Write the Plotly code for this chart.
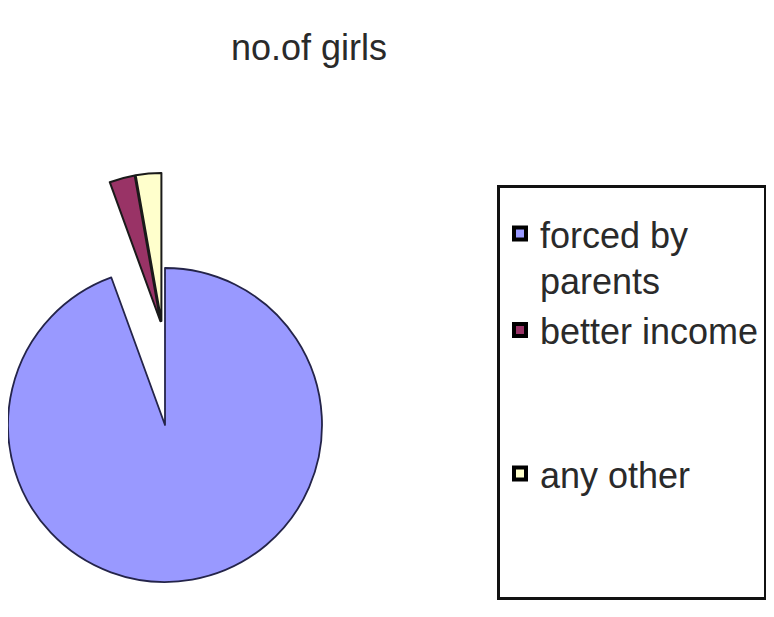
import plotly.graph_objects as go

# ---- data ----
title_text = "no.of girls"
labels = ["forced by parents", "better income", "any other"]
legend_labels = ["forced by<br>parents", "better income<br> <br> ", "any other<br> <br> "]
values = [34, 1, 1]
colors = ["#9999FF", "#993366", "#FFFFCC"]
outline = ["#24244a", "#1a1a1a", "#1a1a1a"]

W, H = 766, 609   # page has an 8px body margin
CLEAR = "rgba(0,0,0,0)"


def px(x):  # page x -> paper
    return (x - 8) / W


def py(y):  # page y -> paper
    return 1 - (y - 8) / H


fig = go.Figure()

# legend carrier (tiny, hidden behind the legend box)
fig.add_trace(go.Pie(
    labels=legend_labels, values=values, sort=False, direction="clockwise",
    marker=dict(colors=colors, line=dict(color="#000000", width=4)),
    textinfo="none", hoverinfo="skip", showlegend=True,
    domain=dict(x=[0.80, 0.801], y=[0.5, 0.501]),
))

# main slice (unpulled)
R1, cx1, cy1 = 157, 165, 425
fig.add_trace(go.Pie(
    labels=legend_labels, values=values, sort=False, direction="clockwise",
    marker=dict(colors=[colors[0], CLEAR, CLEAR],
                line=dict(color=[outline[0], CLEAR, CLEAR], width=[1.8, 0, 0])),
    textinfo="none", showlegend=False,
    domain=dict(x=[px(cx1 - R1), px(cx1 + R1)], y=[py(cy1 + R1), py(cy1 - R1)]),
))

# exploded small slices
R2, P = 148, 0.04
half = R2 * (1 + P)
cx2, cy2 = 8 + half, 327
fig.add_trace(go.Pie(
    labels=legend_labels, values=values, sort=False, direction="clockwise",
    pull=[0, P, P],
    marker=dict(colors=[CLEAR, colors[1], colors[2]],
                line=dict(color=[CLEAR, outline[1], outline[2]], width=[0, 2, 2])),
    textinfo="none", showlegend=False,
    domain=dict(x=[px(cx2 - half), px(cx2 + half)], y=[py(cy2 + half), py(cy2 - half)]),
))

fig.update_layout(
    width=W, height=H,
    margin=dict(l=0, r=0, t=0, b=0),
    paper_bgcolor="white", plot_bgcolor="white",
    title=dict(text=title_text, x=px(309), xanchor="center", y=py(47), yanchor="middle",
               xref="paper", yref="container",
               font=dict(family="Arial", size=36, color="#2a2a2a")),
    legend=dict(x=px(497), xanchor="left", y=py(185), yanchor="top",
                bordercolor="#111111", borderwidth=3, bgcolor="white",
                valign="top", tracegroupgap=0,
                title=dict(text="\u00a0", font=dict(size=12)),
                font=dict(family="Arial", size=36, color="#2a2a2a")),
)

fig.write_html("out.html")
